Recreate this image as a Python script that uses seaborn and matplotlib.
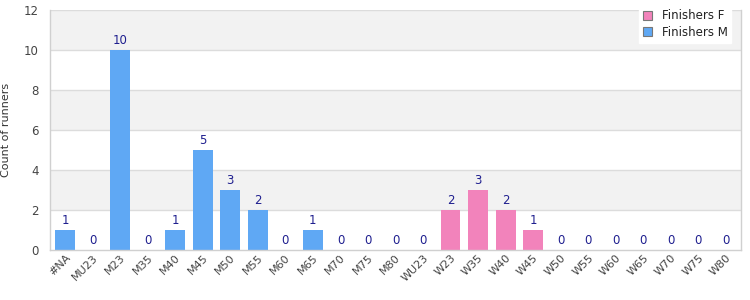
import matplotlib
matplotlib.use("Agg")
import matplotlib.pyplot as plt
import seaborn as sns
import pandas as pd

categories = ["#NA", "MU23", "M23", "M35", "M40", "M45", "M50", "M55", "M60", "M65",
              "M70", "M75", "M80", "WU23", "W23", "W35", "W40", "W45", "W50", "W55",
              "W60", "W65", "W70", "W75", "W80"]
counts = [1, 0, 10, 0, 1, 5, 3, 2, 0, 1,
          0, 0, 0, 0, 2, 3, 2, 1, 0, 0,
          0, 0, 0, 0, 0]
series = ["Finishers M"] * 14 + ["Finishers F"] * 11
series_order = ["Finishers F", "Finishers M"]
colors = {"Finishers F": "#f283bb", "Finishers M": "#5fa8f4"}
yticks = [0, 2, 4, 6, 8, 10, 12]

df = pd.DataFrame({"category": categories, "count": counts, "series": series})

sns.set_style("white")
plt.rcParams["font.family"] = ["DejaVu Sans"]

fig = plt.figure(figsize=(7.5, 3.0), dpi=100)
ax = fig.add_axes([50 / 750, 50 / 300, 691 / 750, 240 / 300])

# alternating bands
for i in range(0, len(yticks) - 1):
    if i % 2 == 1:
        ax.axhspan(yticks[i], yticks[i + 1], color="#f2f2f2", zorder=0, lw=0)
for t in yticks[1:]:
    ax.axhline(t, color="#dcdcdc", lw=1, zorder=0.5)

sns.barplot(data=df, x="category", y="count", hue="series", hue_order=series_order,
            order=categories, palette=colors, dodge=False, width=0.72,
            saturation=1, ax=ax, zorder=2, legend=True, linewidth=0, edgecolor="none")

for cont in ax.containers:
    ax.bar_label(cont, labels=[f"{int(v)}" if v == v else "" for v in cont.datavalues],
                 padding=2, fontsize=8.5, color="#1f1f8f")

ax.set_ylim(0, 12)
ax.set_yticks(yticks)
ax.set_xlim(-0.55, len(categories) - 0.45)
ax.set_xlabel("")
ax.set_ylabel("Count of runners", fontsize=8, color="#333333")
ax.yaxis.set_label_coords(-0.056, 0.5)
ax.tick_params(axis="y", labelsize=8.5, colors="#444444", length=0, pad=8)
ax.tick_params(axis="x", labelsize=8, colors="#444444", length=0, pad=2)
plt.setp(ax.get_xticklabels(), rotation=45, ha="right", rotation_mode="anchor")

ax.spines["top"].set_visible(False)
for s in ["left", "right", "bottom"]:
    ax.spines[s].set_color("#d0d0d0")
    ax.spines[s].set_linewidth(1)

handles, labels = ax.get_legend_handles_labels()
ax.get_legend().remove()
for h in handles:
    h.set_edgecolor("#777777")
    h.set_linewidth(0.8)
leg = fig.legend(handles, labels, loc="upper right", bbox_to_anchor=(737 / 750, 1.0),
                 fontsize=8.5, frameon=True, framealpha=1, edgecolor="white",
                 fancybox=False, handlelength=0.8, handleheight=0.8,
                 borderpad=0.3, labelspacing=0.3, handletextpad=0.8)
for t in leg.get_texts():
    t.set_color("#222222")

fig.savefig("out.png", dpi=100)
